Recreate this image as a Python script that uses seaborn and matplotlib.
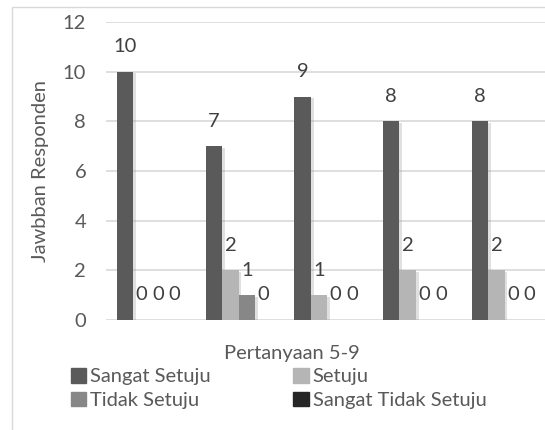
import pandas as pd
import numpy as np
import matplotlib.pyplot as plt
import matplotlib.patheffects as pe
from matplotlib.patches import Rectangle
import seaborn as sns

# Data
pertanyaan = ['P5', 'P6', 'P7', 'P8', 'P9']
respon = ['Sangat Setuju', 'Setuju', 'Tidak Setuju', 'Sangat Tidak Setuju']
sangat_setuju = [10, 7, 9, 8, 8]
setuju = [0, 2, 1, 2, 2]
tidak_setuju = [0, 1, 0, 0, 0]
sangat_tidak_setuju = [0, 0, 0, 0, 0]
warna = ['#5a5a5a', '#b5b5b5', '#878787', '#262626']

df = pd.DataFrame({
    'pertanyaan': pertanyaan * 4,
    'respon': np.repeat(respon, len(pertanyaan)),
    'jumlah': sangat_setuju + setuju + tidak_setuju + sangat_tidak_setuju,
})

sns.set_style('white')
plt.rcParams['font.family'] = ['Lato', 'DejaVu Sans']

fig = plt.figure(figsize=(5.45, 4.3), dpi=100)
ax = fig.add_axes([0.1938, 0.2558, 0.8136, 0.693])

# bingkai chart
fig.patches.append(Rectangle((12 / 545, -0.1), 1.2, 1 - 7 / 430 + 0.1,
                             transform=fig.transFigure, fill=False,
                             edgecolor='#d9d9d9', linewidth=1))

sns.barplot(data=df, x='pertanyaan', y='jumlah', hue='respon',
            hue_order=respon, palette=warna, width=0.745, gap=0,
            saturation=1, linewidth=0, ax=ax, legend=False)

for bar in ax.patches:
    bar.set_edgecolor('none')
    bar.set_path_effects([pe.SimplePatchShadow(offset=(2, -1), shadow_rgbFace='#999999', alpha=0.3),
                          pe.Normal()])

for c in ax.containers:
    ax.bar_label(c, fmt='%d', padding=12, fontsize=14.5, color='#404040')

ax.set_ylim(0, 12)
ax.set_xlim(-0.5, 4.5)
ax.set_yticks(range(0, 13, 2))
ax.set_xticks([])
ax.yaxis.grid(True, color='#d9d9d9', linewidth=1.2)
ax.set_axisbelow(True)
ax.tick_params(axis='y', length=0, pad=14, labelsize=14.5, labelcolor='#595959')
for s in ax.spines.values():
    s.set_visible(False)
ax.set_xlabel('')
ax.set_ylabel('Jawbban Responden', fontsize=14.5, color='#595959', labelpad=10)
fig.text(292 / 545, 1 - 353 / 430, 'Pertanyaan 5-9', ha='center', va='center',
         fontsize=14.5, color='#595959')

# urutan legenda per baris
urutan = [0, 2, 1, 3]
handles = [Rectangle((0, 0), 1, 1, color=warna[i]) for i in urutan]
labels = [respon[i] for i in urutan]
fig.legend(handles, labels, loc='upper left', bbox_to_anchor=(61 / 545, 1 - 358 / 430),
           ncol=2, frameon=False, fontsize=14.5, labelcolor='#595959',
           handlelength=0.75, handleheight=0.75, handletextpad=0.2,
           columnspacing=4.1, labelspacing=0.3, borderpad=0)

fig.savefig('out.png', dpi=100)
